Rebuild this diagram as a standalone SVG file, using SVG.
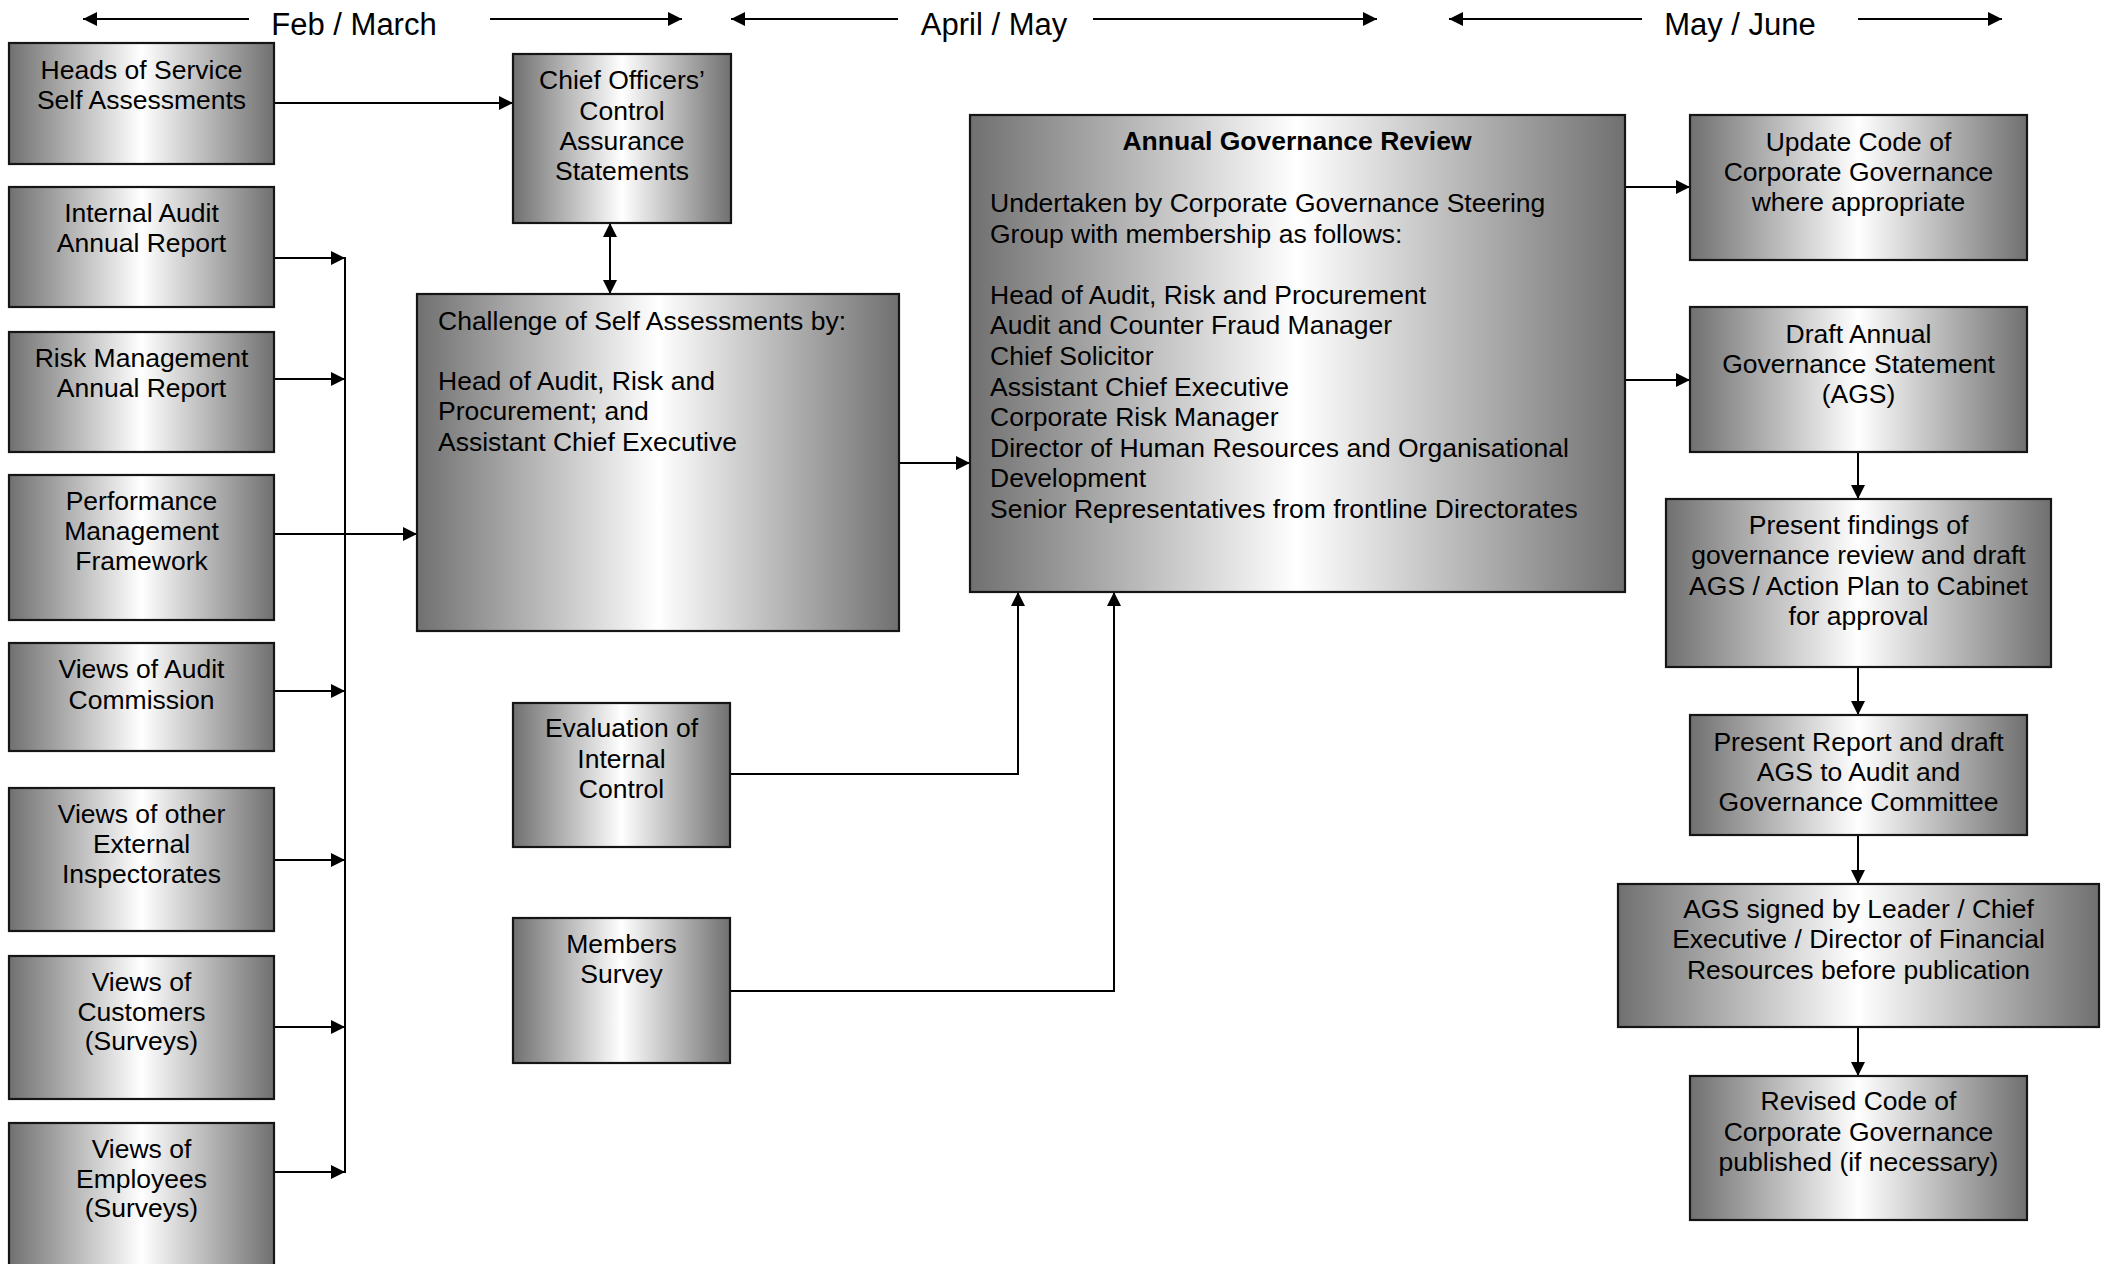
<svg xmlns="http://www.w3.org/2000/svg" width="2110" height="1264" viewBox="0 0 2110 1264">
<defs>
<linearGradient id="g" x1="0" y1="0" x2="1" y2="0">
<stop offset="0" stop-color="#707070"/>
<stop offset="0.5" stop-color="#ffffff"/>
<stop offset="1" stop-color="#707070"/>
</linearGradient>
<marker id="ah" markerUnits="userSpaceOnUse" markerWidth="15" markerHeight="14" refX="14" refY="7" orient="auto-start-reverse" viewBox="0 0 15 14">
<path d="M0,0 L14,7 L0,14 z" fill="#000"/>
</marker>
</defs>
<style>
.box{fill:url(#g);stroke:#151515;stroke-width:2.2}
.t{font-family:"Liberation Sans",Arial,sans-serif;font-size:26.5px;fill:#000}
.c{text-anchor:middle}
.h{font-family:"Liberation Sans",Arial,sans-serif;font-size:31px;fill:#000;text-anchor:middle}
.ln{fill:none;stroke:#000;stroke-width:2}
.a{marker-end:url(#ah)}
</style>
<rect width="2110" height="1264" fill="#fff"/>

<g id="timeline">
<text class="h" x="354" y="34.5">Feb / March</text>
<text class="h" x="994" y="34.5">April / May</text>
<text class="h" x="1740" y="34.5">May / June</text>
</g>

<g id="connectors">
<line class="ln a" x1="249" y1="19" x2="83" y2="19"/>
<line class="ln a" x1="490" y1="19" x2="682" y2="19"/>
<line class="ln a" x1="898" y1="19" x2="731" y2="19"/>
<line class="ln a" x1="1093" y1="19" x2="1377" y2="19"/>
<line class="ln a" x1="1642" y1="19" x2="1449" y2="19"/>
<line class="ln a" x1="1858" y1="19" x2="2002" y2="19"/>

<line class="ln a" x1="274" y1="103" x2="513" y2="103"/>
<line class="ln" x1="345" y1="257" x2="345" y2="1173"/>
<line class="ln a" x1="274" y1="258" x2="345" y2="258"/>
<line class="ln a" x1="274" y1="379" x2="345" y2="379"/>
<line class="ln a" x1="274" y1="534" x2="417" y2="534"/>
<line class="ln a" x1="274" y1="691" x2="345" y2="691"/>
<line class="ln a" x1="274" y1="860" x2="345" y2="860"/>
<line class="ln a" x1="274" y1="1027" x2="345" y2="1027"/>
<line class="ln a" x1="274" y1="1172" x2="345" y2="1172"/>

<line class="ln a" x1="610" y1="223" x2="610" y2="294" style="marker-start:url(#ah)"/>
<line class="ln a" x1="899" y1="463" x2="970" y2="463"/>
<polyline class="ln a" points="730,774 1018,774 1018,592"/>
<polyline class="ln a" points="730,991 1114,991 1114,592"/>

<line class="ln a" x1="1625" y1="187" x2="1690" y2="187"/>
<line class="ln a" x1="1625" y1="380" x2="1690" y2="380"/>
<line class="ln a" x1="1858" y1="452" x2="1858" y2="499"/>
<line class="ln a" x1="1858" y1="667" x2="1858" y2="715"/>
<line class="ln a" x1="1858" y1="835" x2="1858" y2="884"/>
<line class="ln a" x1="1858" y1="1027" x2="1858" y2="1076"/>
</g>

<g id="heads-of-service">
<rect class="box" x="9" y="43" width="265" height="121"/>
<text class="t c" x="141.5" y="79">Heads of Service</text>
<text class="t c" x="141.5" y="109">Self Assessments</text>
</g>
<g id="internal-audit">
<rect class="box" x="9" y="187" width="265" height="120"/>
<text class="t c" x="141.5" y="222">Internal Audit</text>
<text class="t c" x="141.5" y="252">Annual Report</text>
</g>
<g id="risk-management">
<rect class="box" x="9" y="332" width="265" height="120"/>
<text class="t c" x="141.5" y="367">Risk Management</text>
<text class="t c" x="141.5" y="397">Annual Report</text>
</g>
<g id="performance">
<rect class="box" x="9" y="475" width="265" height="145"/>
<text class="t c" x="141.5" y="510">Performance</text>
<text class="t c" x="141.5" y="540">Management</text>
<text class="t c" x="141.5" y="570">Framework</text>
</g>
<g id="audit-commission">
<rect class="box" x="9" y="643" width="265" height="108"/>
<text class="t c" x="141.5" y="678">Views of Audit</text>
<text class="t c" x="141.5" y="709">Commission</text>
</g>
<g id="external-inspectorates">
<rect class="box" x="9" y="788" width="265" height="143"/>
<text class="t c" x="141.5" y="823">Views of other</text>
<text class="t c" x="141.5" y="853">External</text>
<text class="t c" x="141.5" y="883">Inspectorates</text>
</g>
<g id="customers">
<rect class="box" x="9" y="956" width="265" height="143"/>
<text class="t c" x="141.5" y="991">Views of</text>
<text class="t c" x="141.5" y="1021">Customers</text>
<text class="t c" x="141.5" y="1050">(Surveys)</text>
</g>
<g id="employees">
<rect class="box" x="9" y="1123" width="265" height="150"/>
<text class="t c" x="141.5" y="1158">Views of</text>
<text class="t c" x="141.5" y="1188">Employees</text>
<text class="t c" x="141.5" y="1217">(Surveys)</text>
</g>

<g id="chief-officers">
<rect class="box" x="513" y="54" width="218" height="169"/>
<text class="t c" x="622" y="89">Chief Officers’</text>
<text class="t c" x="622" y="120">Control</text>
<text class="t c" x="622" y="150">Assurance</text>
<text class="t c" x="622" y="180">Statements</text>
</g>
<g id="challenge">
<rect class="box" x="417" y="294" width="482" height="337"/>
<text class="t" x="438" y="330">Challenge of Self Assessments by:</text>
<text class="t" x="438" y="390">Head of Audit, Risk and</text>
<text class="t" x="438" y="420">Procurement; and</text>
<text class="t" x="438" y="451">Assistant Chief Executive</text>
</g>
<g id="evaluation">
<rect class="box" x="513" y="703" width="217" height="144"/>
<text class="t c" x="621.5" y="737">Evaluation of</text>
<text class="t c" x="621.5" y="768">Internal</text>
<text class="t c" x="621.5" y="798">Control</text>
</g>
<g id="members-survey">
<rect class="box" x="513" y="918" width="217" height="145"/>
<text class="t c" x="621.5" y="953">Members</text>
<text class="t c" x="621.5" y="983">Survey</text>
</g>

<g id="annual-governance-review">
<rect class="box" x="970" y="115" width="655" height="477"/>
<text class="t c" x="1297" y="150" font-weight="bold">Annual Governance Review</text>
<text class="t" x="990" y="212">Undertaken by Corporate Governance Steering</text>
<text class="t" x="990" y="242.6">Group with membership as follows:</text>
<text class="t" x="990" y="303.8">Head of Audit, Risk and Procurement</text>
<text class="t" x="990" y="334.4">Audit and Counter Fraud Manager</text>
<text class="t" x="990" y="365">Chief Solicitor</text>
<text class="t" x="990" y="395.6">Assistant Chief Executive</text>
<text class="t" x="990" y="426.2">Corporate Risk Manager</text>
<text class="t" x="990" y="456.8">Director of Human Resources and Organisational</text>
<text class="t" x="990" y="487.4">Development</text>
<text class="t" x="990" y="518">Senior Representatives from frontline Directorates</text>
</g>

<g id="update-code">
<rect class="box" x="1690" y="115" width="337" height="145"/>
<text class="t c" x="1858.5" y="151">Update Code of</text>
<text class="t c" x="1858.5" y="181">Corporate Governance</text>
<text class="t c" x="1858.5" y="211">where appropriate</text>
</g>
<g id="draft-ags">
<rect class="box" x="1690" y="307" width="337" height="145"/>
<text class="t c" x="1858.5" y="343">Draft Annual</text>
<text class="t c" x="1858.5" y="373">Governance Statement</text>
<text class="t c" x="1858.5" y="403">(AGS)</text>
</g>
<g id="present-findings">
<rect class="box" x="1666" y="499" width="385" height="168"/>
<text class="t c" x="1858.5" y="534">Present findings of</text>
<text class="t c" x="1858.5" y="564">governance review and draft</text>
<text class="t c" x="1858.5" y="595">AGS / Action Plan to Cabinet</text>
<text class="t c" x="1858.5" y="625">for approval</text>
</g>
<g id="present-report">
<rect class="box" x="1690" y="715" width="337" height="120"/>
<text class="t c" x="1858.5" y="751">Present Report and draft</text>
<text class="t c" x="1858.5" y="781">AGS to Audit and</text>
<text class="t c" x="1858.5" y="811">Governance Committee</text>
</g>
<g id="ags-signed">
<rect class="box" x="1618" y="884" width="481" height="143"/>
<text class="t c" x="1858.5" y="918">AGS signed by Leader / Chief</text>
<text class="t c" x="1858.5" y="948">Executive / Director of Financial</text>
<text class="t c" x="1858.5" y="979">Resources before publication</text>
</g>
<g id="revised-code">
<rect class="box" x="1690" y="1076" width="337" height="144"/>
<text class="t c" x="1858.5" y="1110">Revised Code of</text>
<text class="t c" x="1858.5" y="1141">Corporate Governance</text>
<text class="t c" x="1858.5" y="1171">published (if necessary)</text>
</g>
</svg>
